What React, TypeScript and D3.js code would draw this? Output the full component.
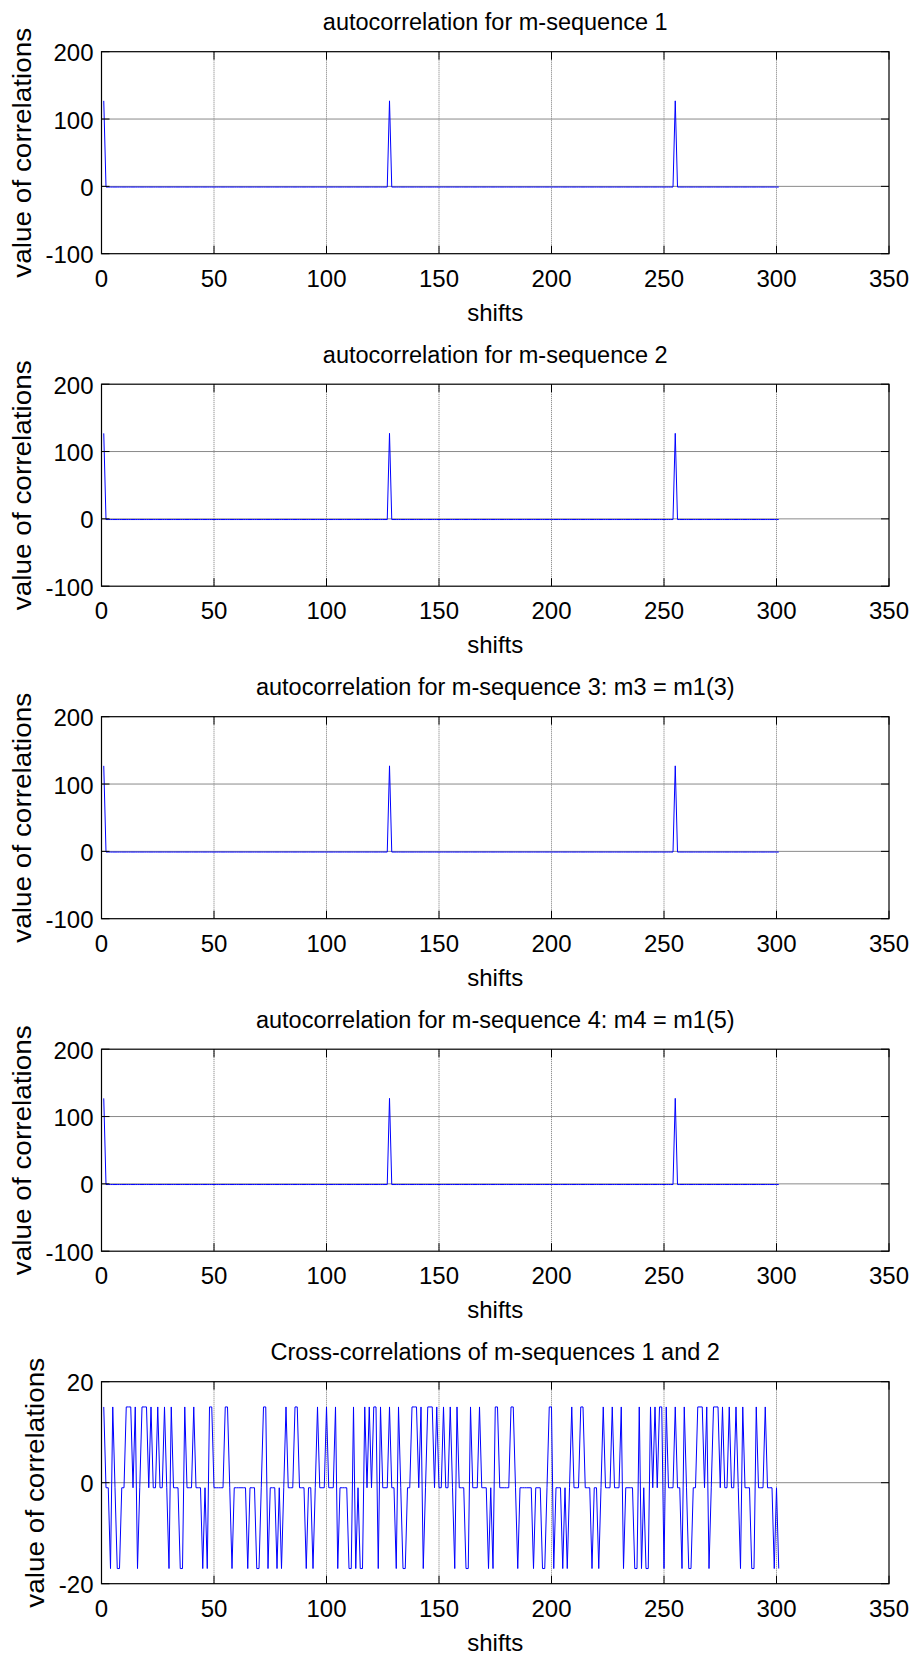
import React from 'react';
import * as d3 from 'd3';

const WIDTH = 915;
const HEIGHT = 1658;

// Axis ticks
const shiftTicks = [0, 50, 100, 150, 200, 250, 300, 350];
const autoTicks = [-100, 0, 100, 200];
const crossTicks = [-20, 0, 20];

const autoTitles = [
  'autocorrelation for m-sequence 1',
  'autocorrelation for m-sequence 2',
  'autocorrelation for m-sequence 3: m3 = m1(3)',
  'autocorrelation for m-sequence 4: m4 = m1(5)',
];
const crossTitle = 'Cross-correlations of m-sequences 1 and 2';

// Shifts run 1..301
const shiftCount = 301;

// Autocorrelation of a length-127 m-sequence: in-phase peak, -1 elsewhere
const autoPeakShifts = [1, 128, 255];
const autoPeakValue = 127;
const autoOffPeakValue = -1;

// Cross-correlation of m-sequences 1 and 2, one value per shift (1..301)
const crossValues = [
  // shifts 1..127
  15, -1, -1, -17, 15, -1, -17, -17, -1, -1, 15, 15, 15, -1, 15, -17, -1, 15, 15, 15,
  -1, 15, -1, -1, 15, -1, -1, 15, -1, -17, 15, -1, -1, -1, -17, -17, 15, -1, -1, -1,
  15, -1, -1, -1, -17, -1, -17, 15, 15, -1, -1, -1, -1, -1, 15, 15, -1, -17, -1, -1,
  -1, -1, -1, -1, -17, -1, -1, -1, -17, -17, -1, 15, 15, -17, -1, -1, -1, -17, -1, -17,
  -1, 15, -1, -1, -1, 15, 15, -1, -1, -1, -17, -1, -1, -17, -1, 15, -1, -1, -1, 15,
  -1, -1, -1, 15, -17, -1, -1, -1, -1, -17, -17, 15, -17, -1, -17, -17, 15, -1, 15, -1,
  15, 15, -17, 15, -1, -1, -1,
  // shifts 128..254
  15, -1, -1, -17, 15, -1, -17, -17, -1, -1, 15, 15, 15, -1, 15, -17, -1, 15, 15, 15,
  -1, 15, -1, -1, 15, -1, -1, 15, -1, -17, 15, -1, -1, -1, -17, -17, 15, -1, -1, -1,
  15, -1, -1, -1, -17, -1, -17, 15, 15, -1, -1, -1, -1, -1, 15, 15, -1, -17, -1, -1,
  -1, -1, -1, -1, -17, -1, -1, -1, -17, -17, -1, 15, 15, -17, -1, -1, -1, -17, -1, -17,
  -1, 15, -1, -1, -1, 15, 15, -1, -1, -1, -17, -1, -1, -17, -1, 15, -1, -1, -1, 15,
  -1, -1, -1, 15, -17, -1, -1, -1, -1, -17, -17, 15, -17, -1, -17, -17, 15, -1, 15, -1,
  15, 15, -17, 15, -1, -1, -1,
  // shifts 255..301
  15, -1, -1, -17, 15, -1, -17, -17, -1, -1, 15, 15, 15, -1, 15, -17, -1, 15, 15, 15,
  -1, 15, -1, -1, 15, -1, -1, 15, -1, -17, 15, -1, -1, -1, -17, -17, 15, -1, -1, -1,
  15, -1, -1, -1, -17, -1, -17,
];

const FONT = "'Liberation Sans', Arial, Helvetica, sans-serif";

const AX_LEFT = 101.5;
const AX_RIGHT = 889;
const FIRST_TOP = 51.7;
const PITCH = 332.5;
const AX_H = 202;
const TICK_LEN = 8;

type Pt = { s: number; v: number };

function Panel({
  top,
  title,
  data,
  yDomain,
  yTicks,
  ylabelX,
}: {
  top: number;
  title: string;
  data: Pt[];
  yDomain: [number, number];
  yTicks: number[];
  ylabelX: number;
}) {
  const x = d3.scaleLinear().domain([0, 350]).range([AX_LEFT, AX_RIGHT]);
  const y = d3.scaleLinear().domain(yDomain).range([top + AX_H, top]);
  const bottom = top + AX_H;
  const line = d3
    .line<Pt>()
    .x((d) => x(d.s))
    .y((d) => y(d.v));
  const cx = (AX_LEFT + AX_RIGHT) / 2;
  const cy = (top + bottom) / 2;
  return (
    <g>
      {/* grid */}
      {shiftTicks
        .filter((t) => t > 0 && t < 350)
        .map((t) => (
          <line
            key={'gx' + t}
            x1={x(t)}
            x2={x(t)}
            y1={top}
            y2={bottom}
            stroke="#7a7a7a"
            strokeWidth={1}
            strokeDasharray="1 1"
          />
        ))}
      {yTicks
        .filter((t) => t > yDomain[0] && t < yDomain[1])
        .map((t) => (
          <line
            key={'gy' + t}
            x1={AX_LEFT}
            x2={AX_RIGHT}
            y1={y(t)}
            y2={y(t)}
            stroke="#8a8a8a"
            strokeWidth={1}
          />
        ))}
      {/* data */}
      <path d={line(data) || ''} fill="none" stroke="#0000ff" strokeWidth={1} />
      {/* box */}
      <rect
        x={AX_LEFT}
        y={top}
        width={AX_RIGHT - AX_LEFT}
        height={AX_H}
        fill="none"
        stroke="#000"
        strokeWidth={1.2}
      />
      {/* ticks */}
      {shiftTicks.map((t) => (
        <g key={'tx' + t}>
          <line x1={x(t)} x2={x(t)} y1={bottom} y2={bottom - TICK_LEN} stroke="#000" strokeWidth={1} />
          <line x1={x(t)} x2={x(t)} y1={top} y2={top + TICK_LEN} stroke="#000" strokeWidth={1} />
          <text
            x={x(t)}
            y={bottom + 33}
            textAnchor="middle"
            fontFamily={FONT}
            fontSize={24}
          >
            {t}
          </text>
        </g>
      ))}
      {yTicks.map((t) => (
        <g key={'ty' + t}>
          <line x1={AX_LEFT} x2={AX_LEFT + TICK_LEN} y1={y(t)} y2={y(t)} stroke="#000" strokeWidth={1} />
          <line x1={AX_RIGHT} x2={AX_RIGHT - TICK_LEN} y1={y(t)} y2={y(t)} stroke="#000" strokeWidth={1} />
          <text
            x={AX_LEFT - 8}
            y={y(t) + 9.5}
            textAnchor="end"
            fontFamily={FONT}
            fontSize={24}
          >
            {t}
          </text>
        </g>
      ))}
      {/* title and labels */}
      <text x={cx} y={top - 21.5} textAnchor="middle" fontFamily={FONT} fontSize={23.5}>
        {title}
      </text>
      <text x={cx} y={bottom + 67} textAnchor="middle" fontFamily={FONT} fontSize={24}>
        shifts
      </text>
      <text
        transform={`translate(${ylabelX},${cy}) rotate(-90)`}
        textAnchor="middle"
        fontFamily={FONT}
        fontSize={26}
        textLength={250}
        lengthAdjust="spacingAndGlyphs"
      >
        value of correlations
      </text>
    </g>
  );
}

export default function App() {
  const shifts = d3.range(1, shiftCount + 1);
  const autoData: Pt[] = shifts.map((s) => ({
    s,
    v: autoPeakShifts.includes(s) ? autoPeakValue : autoOffPeakValue,
  }));
  const crossData: Pt[] = crossValues.map((v, i) => ({ s: i + 1, v }));

  return (
    <svg
      width={WIDTH}
      height={HEIGHT}
      viewBox={`0 0 ${WIDTH} ${HEIGHT}`}
      style={{ position: 'absolute', left: 0, top: 0, background: '#fff' }}
    >
      <rect x={0} y={0} width={WIDTH} height={HEIGHT} fill="#fff" />
      {autoTitles.map((t, i) => (
        <Panel
          key={t}
          top={FIRST_TOP + i * PITCH}
          title={t}
          data={autoData}
          yDomain={[-100, 200]}
          yTicks={autoTicks}
          ylabelX={31}
        />
      ))}
      <Panel
        top={FIRST_TOP + 4 * PITCH}
        title={crossTitle}
        data={crossData}
        yDomain={[-20, 20]}
        yTicks={crossTicks}
        ylabelX={44}
      />
    </svg>
  );
}
